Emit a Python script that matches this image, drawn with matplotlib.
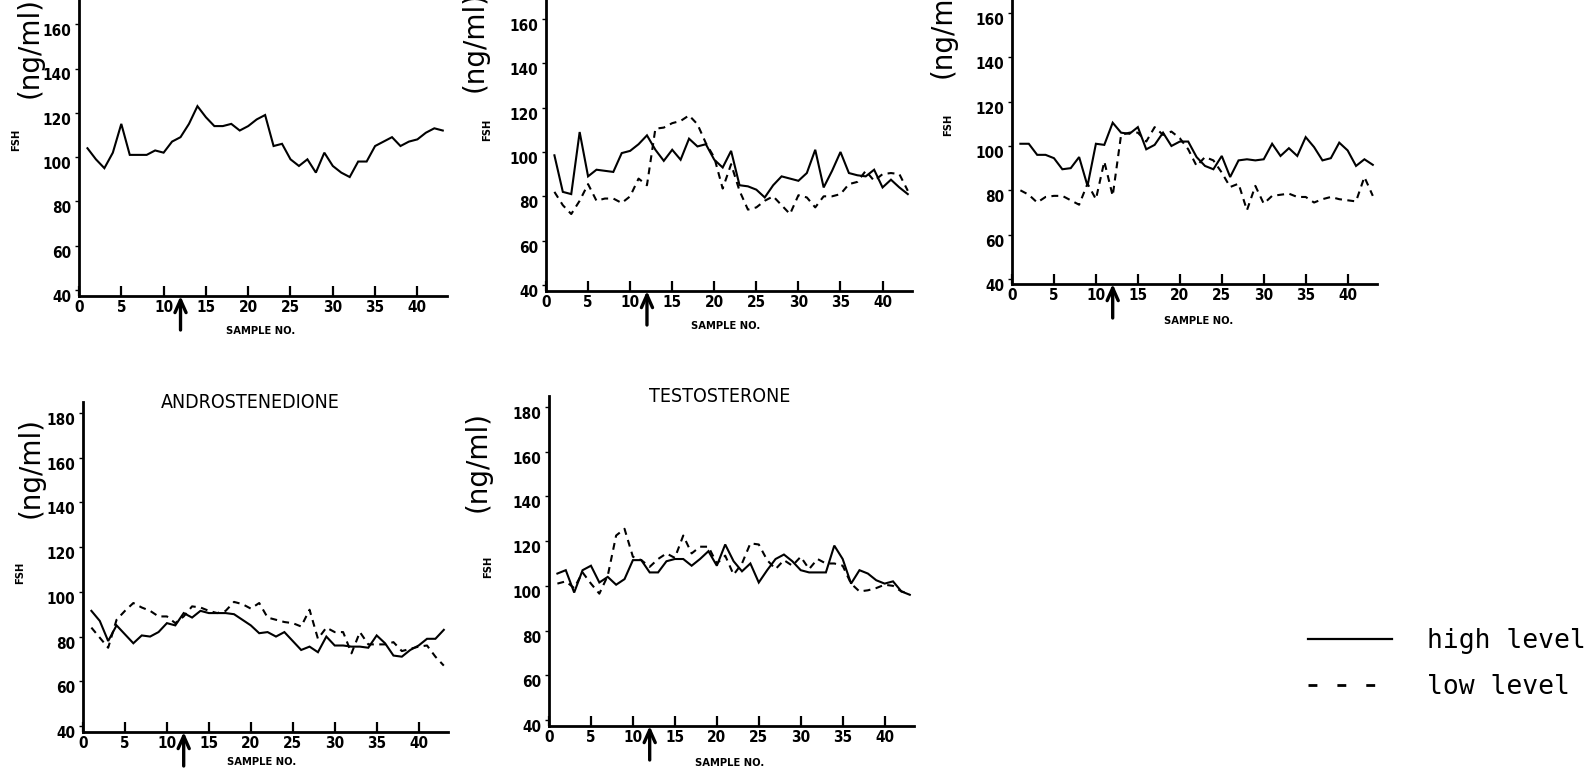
import numpy as np
import matplotlib
matplotlib.use("Agg")
import matplotlib.pyplot as plt
from matplotlib.lines import Line2D

# sample numbers 1..43, hormone levels in ng/ml
SAMPLES = np.arange(1, 44)

HIGH_1 = [104, 99, 95, 102, 115, 101, 101, 101, 103, 102,
          107, 109, 115, 123, 118, 114, 114, 115, 112, 114,
          117, 119, 105, 106, 99, 96, 99, 93, 102, 96,
          93, 91, 98, 98, 105, 107, 109, 105, 107, 108,
          111, 113, 112]

HIGH_2 = [98.5, 82, 81, 109, 89, 92, 91.5, 91, 99.5, 100.5,
          103.5, 107.5, 101, 96, 101, 96.5, 106, 102.5, 103.5, 96.5,
          93, 100.5, 85, 84.5, 83, 79.5, 85, 89, 88, 87,
          90.5, 101, 84, 91.5, 100, 90.5, 89.5, 89, 92, 84,
          87.5, 84, 81]
LOW_2 = [82, 76, 72, 78, 85.5, 78, 79, 79, 77, 80,
         88, 85, 110.5, 111, 113, 114, 116.5, 112.5, 104, 97.5,
         83.5, 94.5, 82.5, 74, 75, 78, 80, 76, 72, 80.5,
         79.5, 75, 80, 80, 81, 85.5, 86.5, 91.5, 87, 90,
         90.5, 90, 82.5]

HIGH_3 = [101, 101, 96, 96, 94.5, 89.5, 90, 95, 82, 101,
          100.5, 110.5, 106, 105.5, 108.5, 98.5, 100.5, 106, 100, 102,
          102, 95, 91, 89.5, 95.5, 86, 93.5, 94, 93.5, 94,
          101, 95.5, 99, 95.5, 104, 99.5, 93.5, 94.5, 101.5, 98,
          91, 94, 91.5]
LOW_3 = [80, 78, 74.5, 77, 77.5, 77.5, 75.5, 73.5, 83, 76,
         93, 77.5, 105, 106, 106, 102, 108.5, 105, 106.5, 103.5,
         98.5, 91, 95, 93.5, 88, 81.5, 83, 71, 82, 74,
         77.5, 78, 78.5, 77, 77, 74.5, 76, 77, 76, 75.5,
         75, 86, 77.5]

HIGH_4 = [91.5, 87, 78, 85, 81, 77, 80.5, 80, 82, 86,
          85, 90.5, 88.5, 91.5, 90.5, 90.5, 90.5, 90, 87.5, 85,
          81.5, 82, 80, 82, 78, 74, 75.5, 73, 80, 76,
          76, 75.5, 75.5, 75, 80.5, 77, 71.5, 71, 74, 76,
          79, 79, 83]
LOW_4 = [84, 79.5, 75, 87.5, 91.5, 95, 93, 91.5, 89, 89,
         86, 89, 93.5, 93, 91.5, 90.5, 91.5, 95.5, 94.5, 92.5,
         95, 88.5, 87.5, 86.5, 86, 84.5, 92, 79, 84, 82,
         82, 72.5, 82, 76.5, 76.5, 76.5, 77.5, 73.5, 74.5, 75.5,
         76, 71, 67]

HIGH_5 = [105.5, 107, 97, 107, 109, 101.5, 104, 100.5, 103, 111.5,
          111.5, 106, 106, 111, 112, 112, 109, 112, 115.5, 109,
          118.5, 111, 106.5, 110, 101.5, 107, 112, 114, 111, 107,
          106, 106, 106, 118, 112, 101, 107, 105.5, 102.5, 101,
          102, 97.5, 96]
LOW_5 = [101, 102, 99, 106, 101, 96.5, 104.5, 122.5, 125.5, 113,
         111.5, 108.5, 112, 114.5, 112.5, 122.5, 114.5, 117.5, 117.5, 110,
         113.5, 105, 110, 119, 118.5, 111.5, 107.5, 111.5, 109, 113,
         107.5, 112, 110, 110, 109, 101, 97.5, 98, 99, 100.5,
         100, 97.5, 96.5]

Y_TICKS = [40, 60, 80, 100, 120, 140, 160, 180]
X_TICKS = [0, 5, 10, 15, 20, 25, 30, 35, 40]
ARROW_AT = 12          # sample where treatment starts
X_MAX = 43.5
Y_MAX = 185

W, H = 1588, 779
fig = plt.figure(figsize=(W / 100, H / 100), dpi=100)

TICK_FONT = dict(family="DejaVu Sans", weight="bold", stretch="condensed", size=11)
SMALL_FONT = dict(family="DejaVu Sans", weight="bold", stretch="condensed", size=8)


def ftext(x, y, s, **kw):
    fig.text(x / W, 1 - y / H, s, **kw)


def panel(x0, x1, y40, ppu, ybot, high, low=None, title=None, title_xy=None,
          unit_xy=None, fsh_xy=None, sample_xy=None):
    ymin = 40 - (ybot - y40) / ppu
    ytop = y40 - (Y_MAX - 40) * ppu
    ax = fig.add_axes([x0 / W, 1 - ybot / H, (x1 - x0) / W, (ybot - ytop) / H])
    ax.set_facecolor("none")
    ax.plot(SAMPLES, high, color="black", lw=1.5, solid_joinstyle="miter")
    if low is not None:
        ax.plot(SAMPLES, low, color="black", lw=1.5, ls=(0, (3.3, 2.6)))
    ax.set_xlim(0, X_MAX)
    ax.set_ylim(ymin, Y_MAX)
    for side in ("top", "right"):
        ax.spines[side].set_visible(False)
    for side in ("left", "bottom"):
        ax.spines[side].set_linewidth(2.0)
    ax.set_xticks(X_TICKS)
    ax.set_yticks(Y_TICKS)
    ax.set_xticklabels([str(t) for t in X_TICKS], fontdict=TICK_FONT)
    ax.set_yticklabels([str(t) for t in Y_TICKS], fontdict=TICK_FONT, va="top")
    ax.tick_params(axis="x", direction="in", length=7, width=1.6, pad=3)
    ax.tick_params(axis="y", direction="out", length=3, width=1.0, pad=2.5)
    ax.annotate("", xy=(ARROW_AT, 0), xycoords=("data", "axes fraction"),
                xytext=(0, -34), textcoords="offset pixels",
                arrowprops=dict(arrowstyle="->,head_length=0.9,head_width=0.4",
                                lw=2.4, color="black", shrinkA=0, shrinkB=0),
                annotation_clip=False)
    if title:
        ftext(*title_xy, title, ha="center", va="center",
              family="DejaVu Sans", stretch="condensed", size=14)
    ftext(*unit_xy, "(ng/ml)", ha="center", va="center", rotation=90,
          family="DejaVu Sans", size=20)
    ftext(*fsh_xy, "FSH", ha="center", va="center", rotation=90, **SMALL_FONT)
    ftext(*sample_xy, "SAMPLE NO.", ha="center", va="center", **SMALL_FONT)
    return ax


panel(79, 447, 290, 2.215, 296, HIGH_1,
      unit_xy=(30, 48), fsh_xy=(16, 140), sample_xy=(261, 331))
panel(546, 912, 285, 2.217, 291, HIGH_2, LOW_2,
      unit_xy=(475, 42), fsh_xy=(487, 130), sample_xy=(726, 326))
panel(1012, 1377, 279, 2.217, 284, HIGH_3, LOW_3,
      unit_xy=(943, 28), fsh_xy=(948, 125), sample_xy=(1199, 321))
panel(83, 448, 726, 2.236, 732, HIGH_4, LOW_4,
      title="ANDROSTENEDIONE", title_xy=(250, 403),
      unit_xy=(31, 468), fsh_xy=(20, 573), sample_xy=(262, 762))
panel(549, 914, 720, 2.236, 726, HIGH_5, LOW_5,
      title="TESTOSTERONE", title_xy=(720, 397),
      unit_xy=(478, 462), fsh_xy=(488, 567), sample_xy=(730, 763))

handles = [Line2D([], [], color="black", lw=1.6),
           Line2D([], [], color="black", lw=2.0, ls=(0, (3.2, 7.2)))]
fig.legend(handles, ["high level", "low level"], loc="upper left",
           bbox_to_anchor=(1308 / W, 1 - 628 / H), frameon=False,
           prop=dict(family="DejaVu Sans Mono", size=19),
           handlelength=3.2, handletextpad=1.3, labelspacing=0.75,
           borderpad=0, borderaxespad=0)

fig.savefig("out.png", dpi=100, facecolor="white")
